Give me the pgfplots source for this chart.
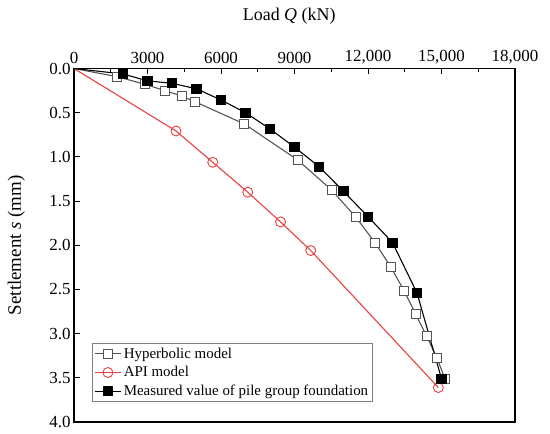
\documentclass[border=0pt]{standalone}
\usepackage{fontspec}
\setmainfont{Liberation Serif}
\usepackage{pgfplots}
\pgfplotsset{compat=1.18}
\definecolor{apired}{RGB}{232,64,64}
\definecolor{hypgray}{RGB}{85,85,85}
\begin{document}
\begin{tikzpicture}[x=1bp,y=1bp]
\path[use as bounding box] (0,0) rectangle (550,434);
\begin{axis}[
  at={(74bp,12bp)}, anchor=south west,
  scale only axis, width=441bp, height=353.5bp,
  xmin=0, xmax=18000, ymin=0, ymax=4,
  y dir=reverse,
  scaled x ticks=false, scaled y ticks=false,
  axis line style={line width=1.2pt},
  xtick={0,3000,6000,9000,12000,15000,18000},
  xticklabels={0,3000,6000,9000,{12,000},{15,000},{18,000}},
  minor x tick num=1,
  ytick={0,0.5,1,1.5,2,2.5,3,3.5,4},
  yticklabels={0.0,0.5,1.0,1.5,2.0,2.5,3.0,3.5,4.0},
  xtick pos=right, ytick pos=left,
  xticklabel pos=right,
  tick align=inside,
  major tick length=6bp, minor tick length=4bp,
  tick style={line width=0.9pt, black},
  ticklabel style={font=\fontsize{17}{20}\selectfont},
  xticklabel style={yshift=1bp},
  xlabel={Load \textit{Q} (kN)},
  ylabel={Settlement \textit{s} (mm)},
  xlabel style={font=\fontsize{18}{21}\selectfont, at={(axis description cs:0.488,1.149)}, anchor=center},
  ylabel style={font=\fontsize{19}{22}\selectfont, at={(axis description cs:-0.131,0.5)}, anchor=center},
  legend style={at={(0.040,0.057)}, anchor=south west, draw=gray, line width=0.8pt,
    font=\fontsize{15}{17}\selectfont, inner xsep=2bp, inner ysep=2bp,
    row sep=3bp, cells={anchor=west}},
  legend cell align=left,
  legend image code/.code={\draw[mark indices={2}] plot coordinates {(0cm,0cm) (0.47cm,0cm) (0.94cm,0cm)};},
]
\addplot[hypgray, line width=1.1pt, mark=square*, mark size=4.5bp,
  mark options={fill=white, draw=hypgray, line width=0.9pt}, mark indices={2,...,20}]
coordinates {
(0,0) (1767,0.093) (2898,0.179) (3715,0.251) (4396,0.311) (4939,0.376)
(6952,0.628) (9131,1.035) (10510,1.374) (11498,1.68) (12286,1.97)
(12939,2.25) (13482,2.52) (13947,2.78) (14396,3.03) (14804,3.27) (15143,3.51)
};
\addlegendentry{Hyperbolic model}
\addplot[apired, line width=1.1pt, mark=o, mark size=5bp,
  mark options={fill=white, draw=apired, line width=0.9pt}, mark indices={2,...,20}]
coordinates {
(0,0) (4164,0.707) (5662,1.061) (7091,1.40) (8430,1.736) (9662,2.06) (14871,3.61)
};
\addlegendentry{API model}
\addplot[black, line width=1.1pt, mark=square*, mark size=4.5bp,
  mark options={fill=black, draw=black}, mark indices={2,...,20}]
coordinates {
(0,0) (2000,0.062) (3000,0.14) (4000,0.167) (5000,0.23) (6000,0.356)
(7000,0.50) (8000,0.684) (9000,0.89) (10000,1.11) (11000,1.39)
(12000,1.676) (13000,1.97) (14000,2.54) (15000,3.51)
};
\addlegendentry{Measured value of pile group foundation}
\end{axis}
\end{tikzpicture}
\end{document}
